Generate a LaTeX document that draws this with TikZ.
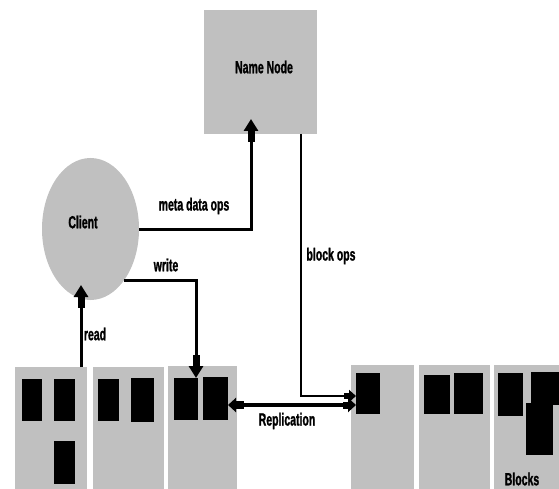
\documentclass[tikz,border=0pt]{standalone}
\usepackage{fontspec}
\setmainfont{Liberation Sans}[FakeStretch=0.6,BoldFeatures={FakeBold=1.2}]
\usetikzlibrary{arrows.meta,shapes.geometric,positioning}
\definecolor{nodegray}{RGB}{192,192,192}

\begin{document}
\begin{tikzpicture}[x=1pt,y=-1pt,
  box/.style={fill=nodegray,inner sep=0pt,outer sep=0pt},
  blk/.style={fill=black,inner sep=0pt,outer sep=0pt},
  lbl/.style={font=\fontsize{17.5}{19}\selectfont\bfseries,inner sep=0pt},
  flow/.style={line width=3pt,-{Rectangle[length=11pt,width=7pt]Triangle[length=12pt,width=14pt]}},
  opsflow/.style={line width=2pt,-{Rectangle[length=5pt,width=6pt]Triangle[length=7pt,width=12pt]}},
  repflow/.style={line width=3.5pt,{Triangle[length=8pt,width=14pt]Rectangle[length=8pt,width=8pt]}-{Rectangle[length=5pt,width=7pt]Triangle[length=8pt,width=14pt]}}]
\useasboundingbox (0,0) rectangle (559,489);

\node[box,minimum width=113pt,minimum height=124pt,
  label={[lbl,xshift=3.5pt,yshift=5pt]center:Name Node}] (name) at (260.5,72) {};
\node[box,ellipse,minimum width=97pt,minimum height=142pt,
  label={[lbl,xshift=-7.5pt,yshift=7pt]center:Client}] (client) at (90.5,229) {};

% data nodes
\foreach \nm/\xa/\xb/\ya in {dnA/15/87/367,dnB/93/164/367,dnC/168/237/366,
  dnD/351/414/365,dnE/419/490/365,dnF/494/559/365}
  \node[box,minimum width={(\xb-\xa)*1pt},minimum height={(489-\ya)*1pt}]
    (\nm) at ({(\xa+\xb)/2},{(\ya+489)/2}) {};

% blocks
\foreach \nm/\xa/\ya/\xb/\yb in {bA1/22/379/42/421,bA2/54/379/75/421,bA3/54/441/75/484,
  bB1/98/379/119/421,bB2/131/378/154/422,bC1/174/378/198/420,bC2/203/377/228/420,
  bD1/356/373/380/414,bE1/424/375/450/414,bE2/454/373/483/414,
  bF1/498/373/523/416,bF2/531/372/559/405,bF3/526/403/553/455}
  \node[blk,minimum width={(\xb-\xa)*1pt},minimum height={(\yb-\ya)*1pt}]
    (\nm) at ({(\xa+\xb)/2},{(\ya+\yb)/2}) {};

\coordinate (readfoot) at ([xshift=30pt]dnA.north);
\coordinate (opsin) at ([yshift=-2.5pt]bD1.west);
\coordinate (repin) at ([yshift=-11.5pt]bD1.west);

\draw[flow,shorten >=-15pt] (client.east) -| ([xshift=-9.5pt]name.south);
\draw[flow] (client.-57) -| ([xshift=10pt]bC1.north);
\draw[flow,shorten >=-15pt] (readfoot) -- (readfoot |- client.south);
\draw[opsflow] ([xshift=40.5pt]name.south) |- (opsin);
\draw[repflow] (bC2.east |- repin) -- (repin);

\node[lbl] (metalbl) at (194,206) {meta data ops};
\node[lbl] (writelbl) at (166,265) {write};
\node[lbl] (readlbl) at (95,334) {read};
\node[lbl] (opslbl) at (331,256) {block ops};
\node[lbl] (replbl) at (287,421) {Replication};
\node[lbl] (blkslbl) at (522,479) {Blocks};
\end{tikzpicture}
\end{document}
